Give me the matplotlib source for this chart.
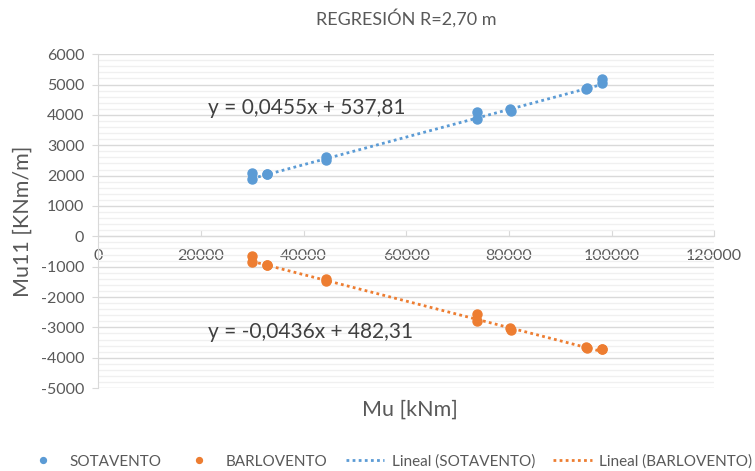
import matplotlib.pyplot as plt
import numpy as np
from matplotlib.ticker import MultipleLocator

plt.rcParams['font.family'] = ['Lato', 'DejaVu Sans']
plt.rcParams['axes.unicode_minus'] = False

# datos
sot_x = [30000, 30000, 32900, 32900, 44300, 44300, 73800, 73800, 80200, 80500, 95000, 95300, 98200, 98200]
sot_y = [2100, 1900, 2060, 2040, 2600, 2520, 4080, 3850, 4200, 4120, 4850, 4880, 5170, 5050]
bar_x = [30000, 30000, 32900, 32900, 44300, 44300, 73800, 73800, 80200, 80500, 95000, 95300, 98200, 98200]
bar_y = [-650, -850, -950, -930, -1400, -1480, -2560, -2790, -3020, -3080, -3650, -3680, -3700, -3710]

sot_fit = (0.0455, 537.81)
bar_fit = (-0.0436, 482.31)
sot_eq = 'y = 0,0455x + 537,81'
bar_eq = 'y = -0,0436x + 482,31'

BLUE = '#5B9BD5'
ORANGE = '#ED7D31'
TXT = '#595959'

fig = plt.figure(figsize=(7.55, 4.71), dpi=100)
ax = fig.add_axes([0.130, 0.176, 0.816, 0.709])

ax.plot(sot_x, sot_y, 'o', color=BLUE, ms=6.5, label='SOTAVENTO', zorder=3)
ax.plot(bar_x, bar_y, 'o', color=ORANGE, ms=6.5, label='BARLOVENTO', zorder=3)

xs = np.array([min(sot_x), max(sot_x)])
ax.plot(xs, sot_fit[0] * xs + sot_fit[1], color=BLUE, lw=2, ls=(0, (1, 1.2)),
        label='Lineal (SOTAVENTO)', zorder=2)
xb = np.array([min(bar_x), max(bar_x)])
ax.plot(xb, bar_fit[0] * xb + bar_fit[1], color=ORANGE, lw=2, ls=(0, (1, 1.2)),
        label='Lineal (BARLOVENTO)', zorder=2)

ax.text(21400, 4235, sot_eq, fontsize=15, color='#404040', va='center', ha='left')
ax.text(21400, -3160, bar_eq, fontsize=15, color='#404040', va='center', ha='left')

ax.set_xlim(0, 120000)
ax.set_ylim(-5000, 6000)
ax.xaxis.set_major_locator(MultipleLocator(20000))
ax.yaxis.set_major_locator(MultipleLocator(1000))
ax.yaxis.set_minor_locator(MultipleLocator(200))

ax.grid(axis='y', which='major', color='#D9D9D9', lw=1, zorder=0)
ax.grid(axis='y', which='minor', color='#F0F0F0', lw=1, zorder=0)
ax.set_axisbelow(True)

for s in ['top', 'right']:
    ax.spines[s].set_visible(False)
ax.spines['bottom'].set_position(('data', 0))
ax.spines['bottom'].set_color('#D9D9D9')
ax.spines['left'].set_color('#D9D9D9')

ax.tick_params(axis='x', colors='#D9D9D9', labelcolor=TXT, labelsize=11.5,
               direction='in', length=4, pad=9)
ax.tick_params(axis='y', colors='#D9D9D9', labelcolor=TXT, labelsize=11.5,
               direction='out', length=4, pad=6)
ax.tick_params(axis='y', which='minor', length=0)
ax.xaxis.set_major_formatter(plt.FuncFormatter(lambda v, p: f'{v:.0f}'))
ax.yaxis.set_major_formatter(plt.FuncFormatter(lambda v, p: f'{v:.0f}'))

fig.text(0.538, 0.962, 'REGRESIÓN R=2,70 m', ha='center', va='center', fontsize=13, color=TXT)
fig.text(0.543, 0.130, 'Mu [kNm]', ha='center', va='center', fontsize=15.5, color=TXT)
fig.text(0.030, 0.530, 'Mu11 [KNm/m]', ha='center', va='center', fontsize=15.5, color=TXT, rotation=90)

fig.legend(loc='center', bbox_to_anchor=(0.514, 0.02), ncol=4, frameon=False,
           fontsize=11, labelcolor=TXT, handlelength=2.5, handletextpad=0.5,
           columnspacing=1.2, markerscale=0.65)

fig.savefig('out.png', dpi=100)
